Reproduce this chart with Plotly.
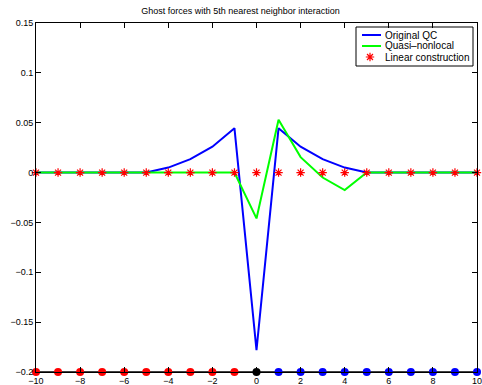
import plotly.graph_objects as go

x = list(range(-10, 11))
original_qc = [0, 0, 0, 0, 0, 0, 0.005, 0.0135, 0.026, 0.0445, -0.178,
               0.0445, 0.026, 0.0135, 0.005, 0, 0, 0, 0, 0, 0]
quasi_nonlocal = [0, 0, 0, 0, 0, 0, 0, 0, 0, 0, -0.046,
                  0.053, 0.0155, -0.005, -0.0175, 0, 0, 0, 0, 0, 0]
linear_construction = [0] * 21
atom_y = [-0.2] * 21
atom_colors = ["red"] * 10 + ["black"] + ["blue"] * 10
legend_names = ["Original QC", "Quasi\u2013nonlocal", "Linear construction"]

W, H = 482, 385
L, R, T, B = 36, 5, 23, 13
pw, ph = W - L - R, H - T - B


def px(v):
    return (v - L) / pw


def py(v):
    return (H - B - v) / ph


fig = go.Figure()
fig.add_trace(go.Scatter(x=x, y=original_qc, mode="lines", name=legend_names[0],
                         line=dict(color="#0000ff", width=2), showlegend=False))
fig.add_trace(go.Scatter(x=x, y=quasi_nonlocal, mode="lines", name=legend_names[1],
                         line=dict(color="#00ff00", width=2), showlegend=False))
fig.add_trace(go.Scatter(x=x, y=linear_construction, mode="markers", name=legend_names[2],
                         marker=dict(symbol="asterisk-open", size=7, color="#ff0000",
                                     line=dict(color="#ff0000", width=1.2)),
                         cliponaxis=False, showlegend=False))
fig.add_trace(go.Scatter(x=x, y=atom_y, mode="lines+markers", showlegend=False,
                         line=dict(color="black", width=1.5),
                         marker=dict(color=atom_colors, size=8, symbol="circle"),
                         cliponaxis=False))

# custom compact legend (MATLAB-like spacing)
box = dict(x0=px(356), x1=px(473), y0=py(66), y1=py(27))
fig.add_shape(type="rect", xref="paper", yref="paper", **box,
              line=dict(color="black", width=1), fillcolor="white", layer="below")
rows_y = [35, 46, 57]
for name, yy, kind in zip(legend_names, rows_y, ["blue", "green", "star"]):
    if kind == "star":
        fig.add_trace(go.Scatter(x=[px(370)], y=[py(yy)], xaxis="x2", yaxis="y2",
                                 mode="markers", showlegend=False, hoverinfo="skip",
                                 marker=dict(symbol="asterisk-open", size=7, color="#ff0000",
                                             line=dict(color="#ff0000", width=1.2))))
    else:
        col = "#0000ff" if kind == "blue" else "#00ff00"
        fig.add_shape(type="line", xref="paper", yref="paper", x0=px(362), x1=px(381),
                      y0=py(yy), y1=py(yy), line=dict(color=col, width=2), layer="above")
    fig.add_annotation(xref="paper", yref="paper", x=px(383), y=py(yy), text=name,
                       showarrow=False, xanchor="left", yanchor="middle",
                       font=dict(size=10, color="black"))

fig.update_layout(
    width=W, height=H,
    margin=dict(l=L, r=R, t=T, b=B),
    paper_bgcolor="white", plot_bgcolor="white",
    font=dict(family="Liberation Sans, Arial, sans-serif", size=9, color="black"),
    title=dict(text="Ghost forces with 5th nearest neighbor interaction",
               x=px(256), xanchor="center", y=1 - 11 / H, yanchor="middle",
               font=dict(size=9)),
    showlegend=False,
    xaxis=dict(range=[-10, 10], tickmode="array", tickvals=list(range(-10, 11, 2)),
               ticktext=["\u2212" + str(-v) if v < 0 else str(v) for v in range(-10, 11, 2)],
               ticks="inside", ticklen=5, tickcolor="black", showline=True,
               linecolor="black", linewidth=1, mirror="ticks", showgrid=False,
               zeroline=False, tickfont=dict(size=9), automargin=False,
               ticklabeloverflow="allow"),
    yaxis=dict(range=[-0.2, 0.15], tickmode="array",
               tickvals=[-0.2, -0.15, -0.1, -0.05, 0, 0.05, 0.1, 0.15],
               ticktext=["\u22120.2", "\u22120.15", "\u22120.1", "\u22120.05", "0", "0.05", "0.1", "0.15"],
               ticks="inside", ticklen=5, tickcolor="black", showline=True,
               linecolor="black", linewidth=1, mirror="ticks", showgrid=False,
               zeroline=False, tickfont=dict(size=9), automargin=False,
               ticklabeloverflow="allow"),
    xaxis2=dict(range=[0, 1], overlaying="x", visible=False, fixedrange=True),
    yaxis2=dict(range=[0, 1], overlaying="y", visible=False, fixedrange=True),
)

fig.write_html("out.html")
